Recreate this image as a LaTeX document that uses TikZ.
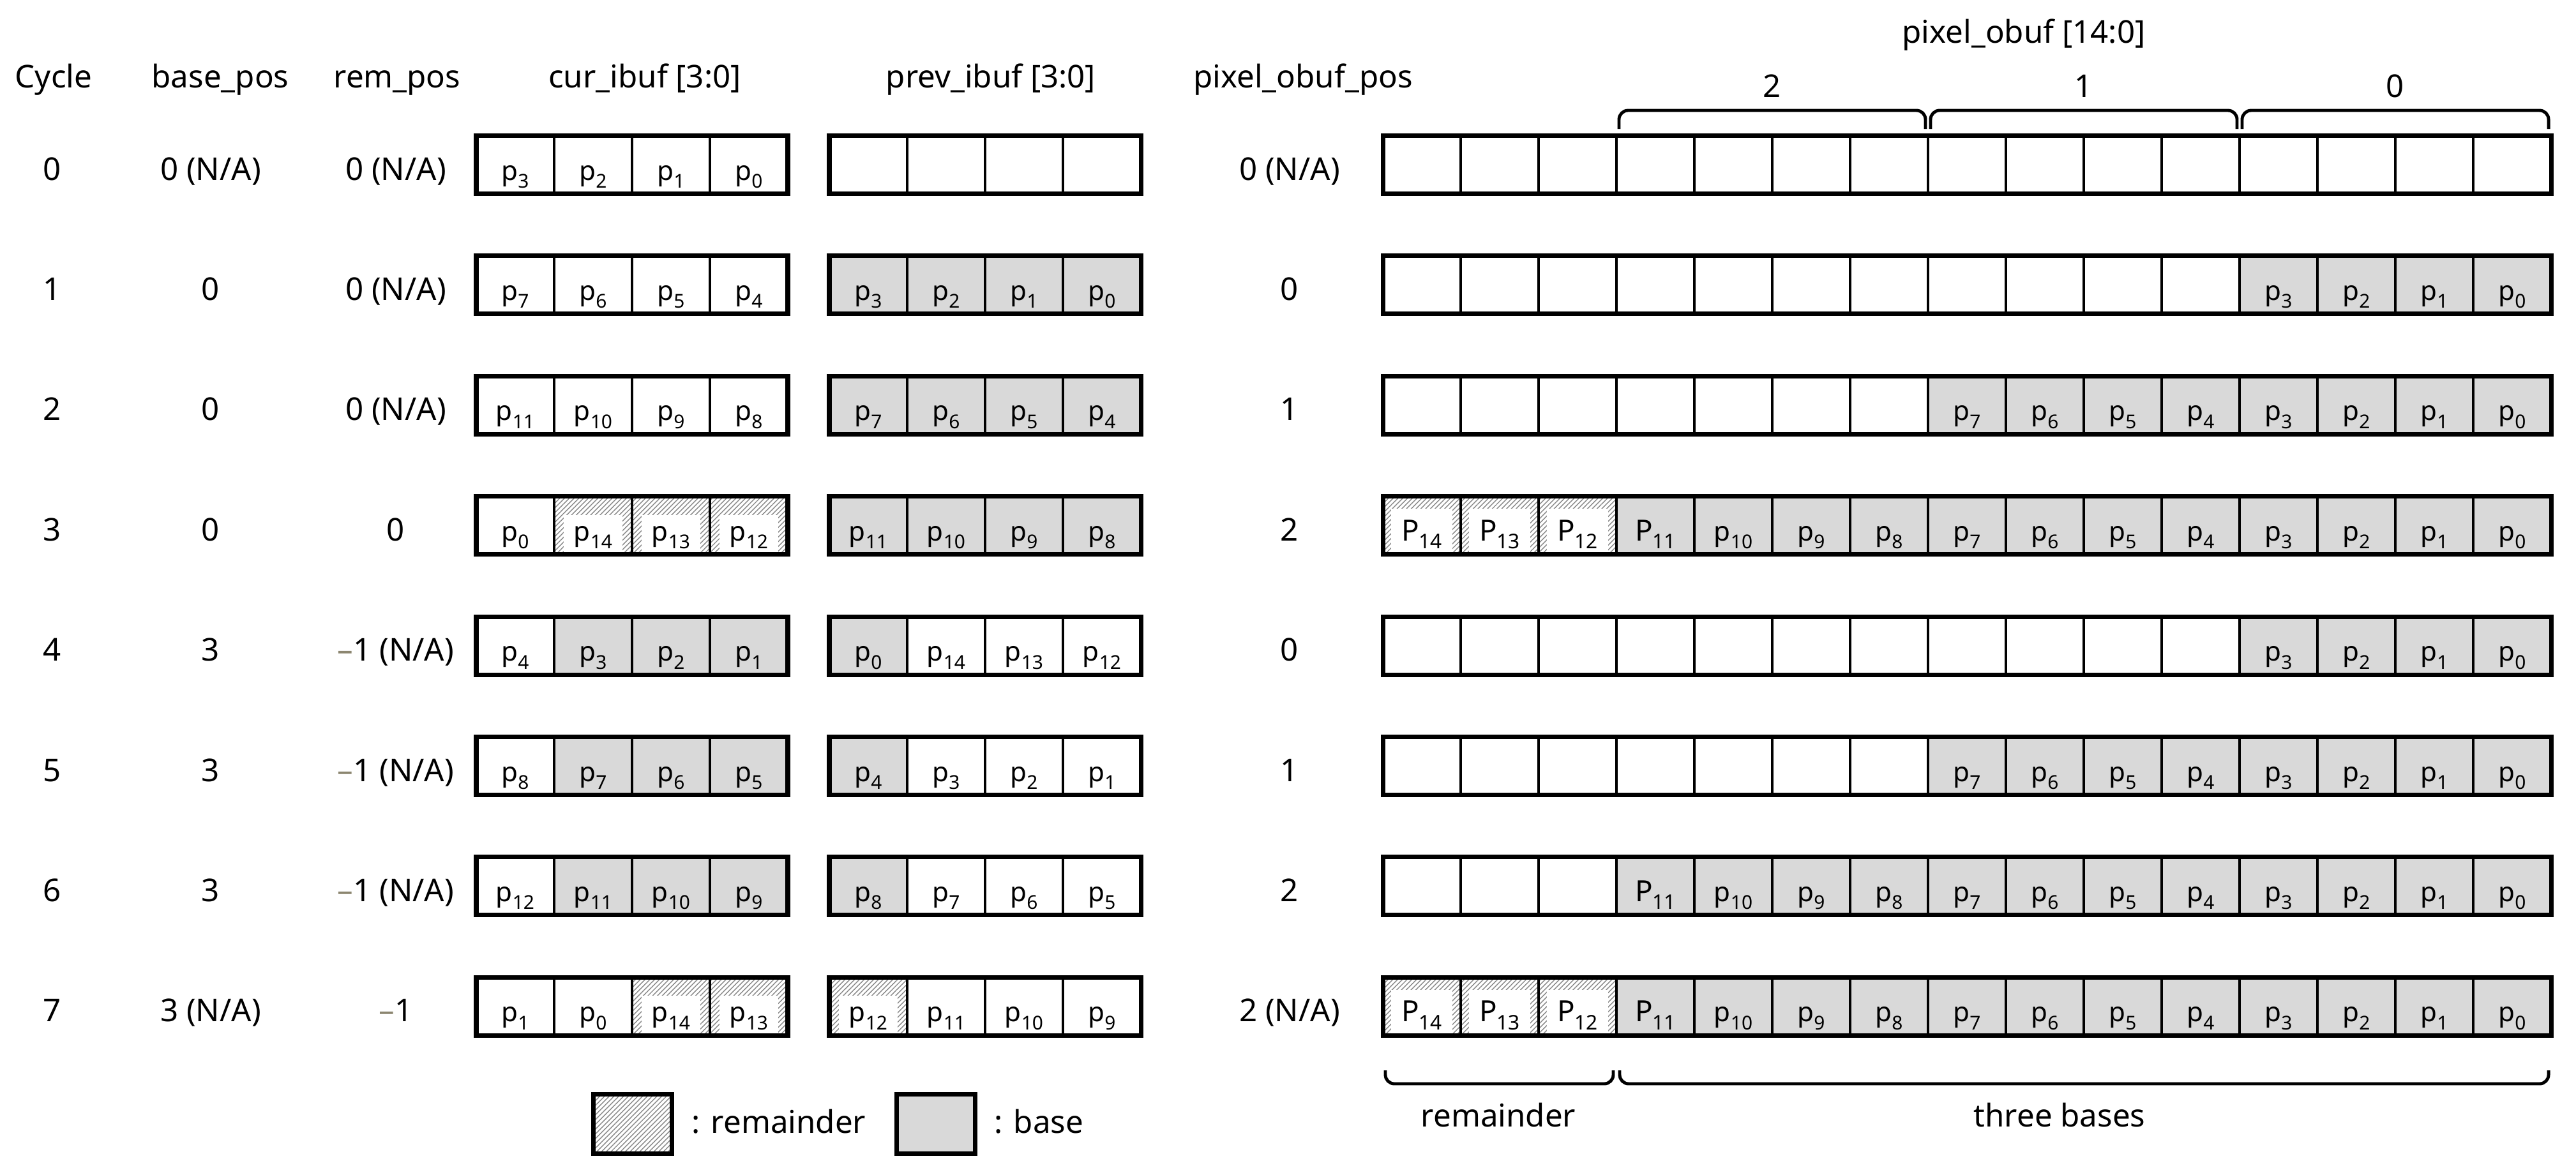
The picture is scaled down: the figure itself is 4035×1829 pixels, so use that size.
\documentclass[tikz,border=0pt]{standalone}
\usepackage{fontspec}
\setmainfont{Noto Sans}
\usetikzlibrary{patterns.meta}

\definecolor{baseGray}{RGB}{217,217,217}
\definecolor{hatchGray}{RGB}{135,135,135}
\definecolor{minusColor}{RGB}{140,134,112}

\newcommand\cellfont{\fontsize{12}{14}\selectfont}
\newcommand\pl[1]{p\raisebox{-0.55ex}{\fontsize{8.5}{9}\selectfont #1}}
\newcommand\Pl[1]{{\fontsize{13}{15}\selectfont P}\raisebox{-0.55ex}{\fontsize{9}{10}\selectfont #1}}
\newcommand\na{ (N/A)}
\newcommand\mi{\textcolor{minusColor}{–}}
\newcommand\rowy[1]{(258+188.4*#1)}

\tikzset{
  cellw/.style={draw, line width=1.2pt, fill=white},
  cellg/.style={draw, line width=1.2pt, fill=baseGray},
  cellh/.style={draw, line width=1.2pt, pattern={Lines[angle=45,distance=1.5pt,line width=0.4pt]}, pattern color=hatchGray},
  labw/.style={anchor=base, inner sep=0pt, font=\cellfont},
  labg/.style={labw},
  labh/.style={labw, fill=white, inner xsep=4.5pt, inner ysep=5pt},
  outer/.style={draw, line width=2pt},
  legbox/.style={draw, line width=2pt, minimum width=1.22cm, minimum height=0.93cm, inner sep=0pt},
  txt/.style={anchor=base, inner sep=0pt, font=\fontsize{14}{17}\selectfont},
  brace/.style={line width=1.4pt, rounded corners=4pt}
}

% one buffer: name, left x, row, cells, list of kind/label
\newcommand\bufrow[5]{%
  \foreach \kind/\lab [count=\i from 0] in {#5} {
    \path[cell\kind] ({#2+\i*\cw},{\rowy{#3}-\ch/2}) rectangle ++(\cw,\ch);
    \node[lab\kind] (#1-#3-\i) at ({#2+(\i+0.5)*\cw},{\rowy{#3}+24}) {\lab};
  }
  \draw[outer] (#2,{\rowy{#3}-\ch/2}) rectangle ++({#4*\cw},\ch);
}

\begin{document}
\begin{tikzpicture}[x=0.01cm, y=-0.01cm]
    % Define parameters
    \def\cw{122}
    \def\ch{91}
    \def\curx{746}
    \def\prevx{1299}
    \def\obx{2166}

    \useasboundingbox (0,0) rectangle (4035,1829);
    \fill[white] (0,0) rectangle (4035,1829);

    % column heads
    \node[txt] (hCycle) at (84,137) {Cycle};
    \node[txt] (hBase) at (345,137) {base\_pos};
    \node[txt] (hRem) at (622,137) {rem\_pos};
    \node[txt] (hCur) at (1010,137) {cur\_ibuf [3:0]};
    \node[txt] (hPrev) at (1552,137) {prev\_ibuf [3:0]};
    \node[txt] (hPos) at (2041,137) {pixel\_obuf\_pos};
    \node[txt] (hObuf) at (3170,67) {pixel\_obuf [14:0]};

    % position values
    \foreach \r/\bp/\rp/\op in {0/0\na/0\na/0\na, 1/0/0\na/0, 2/0/0\na/1, 3/0/0/2,
        4/3/\mi1\na/0, 5/3/\mi1\na/1, 6/3/\mi1\na/2, 7/3\na/\mi1/2\na} {
      \node[txt] (cyc\r) at (82,{\rowy{\r}+24}) {\r};
      \node[txt] (bp\r) at (330,{\rowy{\r}+24}) {\bp};
      \node[txt] (rp\r) at (620,{\rowy{\r}+24}) {\rp};
      \node[txt] (op\r) at (2020,{\rowy{\r}+24}) {\op};
    }

    % cur_ibuf
    \bufrow{cur}{\curx}{0}{4}{w/\pl{3}, w/\pl{2}, w/\pl{1}, w/\pl{0}}
    \bufrow{cur}{\curx}{1}{4}{w/\pl{7}, w/\pl{6}, w/\pl{5}, w/\pl{4}}
    \bufrow{cur}{\curx}{2}{4}{w/\pl{11}, w/\pl{10}, w/\pl{9}, w/\pl{8}}
    \bufrow{cur}{\curx}{3}{4}{w/\pl{0}, h/\pl{14}, h/\pl{13}, h/\pl{12}}
    \bufrow{cur}{\curx}{4}{4}{w/\pl{4}, g/\pl{3}, g/\pl{2}, g/\pl{1}}
    \bufrow{cur}{\curx}{5}{4}{w/\pl{8}, g/\pl{7}, g/\pl{6}, g/\pl{5}}
    \bufrow{cur}{\curx}{6}{4}{w/\pl{12}, g/\pl{11}, g/\pl{10}, g/\pl{9}}
    \bufrow{cur}{\curx}{7}{4}{w/\pl{1}, w/\pl{0}, h/\pl{14}, h/\pl{13}}

    % prev_ibuf
    \bufrow{prev}{\prevx}{0}{4}{w/{}, w/{}, w/{}, w/{}}
    \bufrow{prev}{\prevx}{1}{4}{g/\pl{3}, g/\pl{2}, g/\pl{1}, g/\pl{0}}
    \bufrow{prev}{\prevx}{2}{4}{g/\pl{7}, g/\pl{6}, g/\pl{5}, g/\pl{4}}
    \bufrow{prev}{\prevx}{3}{4}{g/\pl{11}, g/\pl{10}, g/\pl{9}, g/\pl{8}}
    \bufrow{prev}{\prevx}{4}{4}{g/\pl{0}, w/\pl{14}, w/\pl{13}, w/\pl{12}}
    \bufrow{prev}{\prevx}{5}{4}{g/\pl{4}, w/\pl{3}, w/\pl{2}, w/\pl{1}}
    \bufrow{prev}{\prevx}{6}{4}{g/\pl{8}, w/\pl{7}, w/\pl{6}, w/\pl{5}}
    \bufrow{prev}{\prevx}{7}{4}{h/\pl{12}, w/\pl{11}, w/\pl{10}, w/\pl{9}}

    % pixel_obuf: row / number of empty cells on the left
    \foreach \r/\e in {0/15, 1/11, 2/7, 3/0, 4/11, 5/7, 6/3, 7/0} {
      \foreach \c in {0,...,14} {
        \pgfmathtruncatemacro\pix{14-\c}
        \ifnum\c<\e \def\kind{w}\def\lab{}\else
          \ifnum\pix>11 \def\kind{h}\def\lab{\Pl{\pix}}\else
            \ifnum\pix=11 \def\kind{g}\def\lab{\Pl{\pix}}\else
              \def\kind{g}\def\lab{\pl{\pix}}\fi\fi\fi
        \path[cell\kind] ({\obx+\c*\cw},{\rowy{\r}-\ch/2}) rectangle ++(\cw,\ch);
        \node[lab\kind] (obuf-\r-\c) at ({\obx+(\c+0.5)*\cw},{\rowy{\r}+24}) {\lab};
      }
      \draw[outer] (\obx,{\rowy{\r}-\ch/2}) rectangle ++({15*\cw},\ch);
    }

    % groups of pixel_obuf
    \foreach \g/\a in {2/3, 1/7, 0/11} {
      \draw[brace] ({\obx+\a*\cw+4},202) -- ({\obx+\a*\cw+4},173)
        -- ({\obx+(\a+4)*\cw-4},173) -- ({\obx+(\a+4)*\cw-4},202);
      \node[txt] (grp\g) at ({\obx+(\a+2)*\cw},152) {\g};
    }

    \draw[brace] ({\obx+4},1677) -- ({\obx+4},1698) -- ({\obx+3*\cw-5},1698) -- ({\obx+3*\cw-5},1677);
    \draw[brace] ({\obx+3*\cw+5},1677) -- ({\obx+3*\cw+5},1698) -- ({\obx+15*\cw-4},1698) -- ({\obx+15*\cw-4},1677);
    \node[txt] (remLbl) at (2347,1765) {remainder};
    \node[txt] (basesLbl) at (3226,1765) {three bases};

    % legend
    \node[cellh, legbox] (keyRem) at (991,1761) {};
    \node[txt, anchor=base west] (keyRemTxt) at (1083,1775) {: remainder};
    \node[cellg, legbox] (keyBase) at (1466,1761) {};
    \node[txt, anchor=base west] (keyBaseTxt) at (1557,1775) {: base};
\end{tikzpicture}
\end{document}
